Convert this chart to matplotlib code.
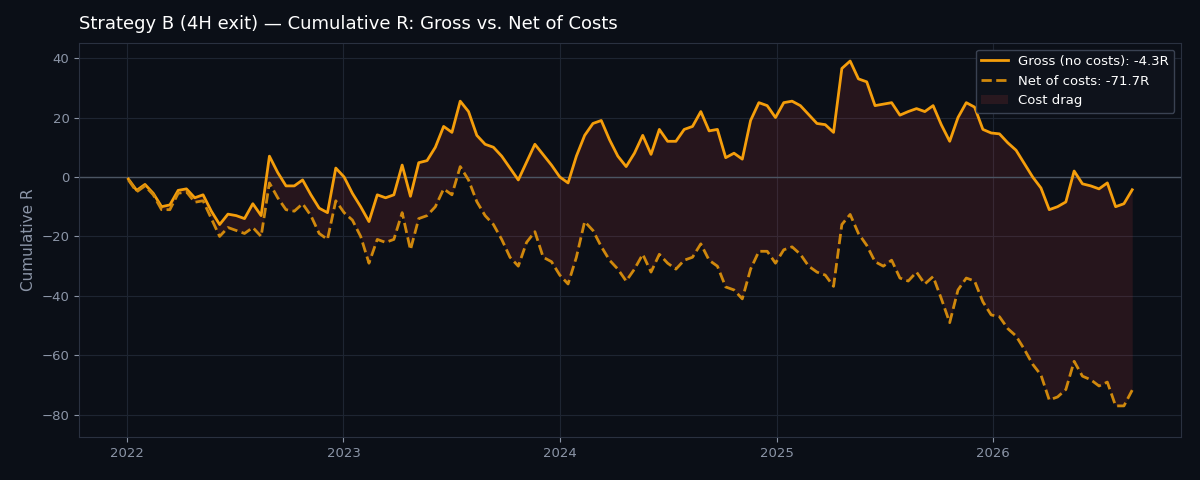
import matplotlib
matplotlib.use("Agg")
import matplotlib.pyplot as plt
import matplotlib.dates as mdates
import pandas as pd
import numpy as np

# sample dates: one every two weeks
dates = pd.date_range("2022-01-03", periods=122, freq="14D")

gross_r = [
    -0.7, -4.5, -2.5, -5.5, -10, -9.4, -4.5, -4, -7, -6,
    -11.5, -16, -12.5, -13, -14, -9, -13, 7, 1.5, -3,
    -3, -1, -6, -10.5, -12, 3, 0, -5.5, -10, -15,
    -6, -7, -6, 4, -6.5, 4.8, 5.5, 10, 17, 15,
    25.5, 22, 14, 11, 10, 7, 3, -1, 5, 11,
    7.5, 4, 0, -2, 7, 14, 18, 19, 12.5, 7,
    3.5, 8, 14, 7.6, 16, 12, 12, 16, 17, 22,
    15.5, 16, 6.5, 8, 6, 19, 25, 24, 20, 25,
    25.5, 24, 21, 18, 17.6, 15, 36.5, 39, 33, 32,
    24, 24.5, 25, 20.8, 22, 23, 22, 24, 17.5, 12,
    20, 25, 23.5, 16, 14.8, 14.5, 11.5, 9, 4.5, 0,
    -3.7, -11, -10, -8.4, 2, -2.3, -3, -4, -2, -10,
    -9, -4.3,
]

net_r = [
    -1, -5, -3, -6, -11, -11, -5.5, -5, -8.5, -8,
    -14, -20, -17, -18, -19, -17, -20, -2, -7, -11,
    -11.5, -9, -13, -19, -21, -8, -12, -14.5, -20, -29,
    -21, -22, -21, -12, -24.5, -14, -13, -10, -4, -6,
    3.5, -1, -8.3, -13, -16, -21, -27, -30, -22, -18.4,
    -27, -28.5, -33, -36, -27, -15, -18, -23.4, -28, -31,
    -35, -31, -26, -32, -26, -29, -31, -28, -27, -22.5,
    -28, -30, -37, -38, -41, -31, -25, -25, -29, -24.5,
    -23.5, -26, -30, -32, -33, -36.8, -16, -12.6, -19, -23,
    -28.5, -30, -28, -34, -35, -32, -36, -33.5, -41, -49,
    -38, -34, -35, -42, -46.4, -47, -51, -53.5, -58, -63,
    -66.6, -75, -74, -71.5, -62, -67, -68.2, -70.3, -69, -77,
    -77, -71.7,
]

bg = "#0b0f17"
grid_c = "#1e2532"
muted = "#8b95a7"
gross_c = "#f59e0b"
net_c = "#d0880c"

plt.rcParams["font.family"] = "DejaVu Sans"
fig = plt.figure(figsize=(12, 4.8), dpi=100, facecolor=bg)
ax = fig.add_axes([0.066, 0.09, 0.918, 0.82])
ax.set_facecolor(bg)

gross = np.array(gross_r)
net = np.array(net_r)

ax.fill_between(dates, net, gross, color="#ef4444", alpha=0.12, lw=0,
                label="Cost drag")
ax.plot(dates, gross, color=gross_c, lw=2,
        label=f"Gross (no costs): {gross[-1]:.1f}R")
ax.plot(dates, net, color=net_c, lw=2, ls="--",
        label=f"Net of costs: {net[-1]:.1f}R")
ax.axhline(0, color="#4b5563", lw=1, zorder=1)

ax.set_xlim(pd.Timestamp("2021-10-12"), pd.Timestamp("2026-11-14"))
ax.set_ylim(-87.4, 45)
ax.set_yticks([-80, -60, -40, -20, 0, 20, 40])
ax.xaxis.set_major_locator(mdates.YearLocator())
ax.xaxis.set_major_formatter(mdates.DateFormatter("%Y"))

ax.grid(True, color=grid_c, lw=0.8)
ax.set_axisbelow(True)
for s in ax.spines.values():
    s.set_color("#2a3140")
ax.tick_params(colors=muted, labelsize=9.5)
ax.set_ylabel("Cumulative R", color=muted, fontsize=11)
ax.set_title("Strategy B (4H exit) \u2014 Cumulative R: Gross vs. Net of Costs",
             loc="left", color="white", fontsize=13, pad=10)

handles, labels = ax.get_legend_handles_labels()
order = [1, 2, 0]
leg = ax.legend([handles[i] for i in order], [labels[i] for i in order],
                loc="upper right", fontsize=9.5, facecolor="#0e121b",
                edgecolor="#3a4252", framealpha=1)
for t in leg.get_texts():
    t.set_color("white")

fig.savefig("out.png", dpi=100, facecolor=bg)
